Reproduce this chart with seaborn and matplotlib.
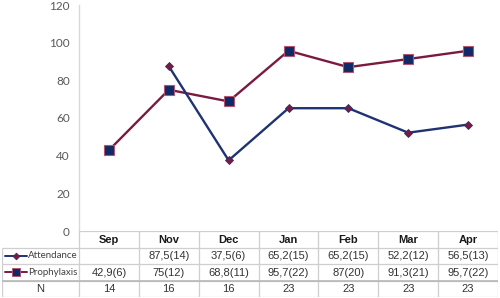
import matplotlib

matplotlib.use("Agg")
import matplotlib.pyplot as plt
import numpy as np
import pandas as pd
import seaborn as sns

sns.set_style("white")
plt.rcParams["font.family"] = ["Liberation Sans", "DejaVu Sans"]

months = ["Sep", "Nov", "Dec", "Jan", "Feb", "Mar", "Apr"]
attendance = [np.nan, 87.5, 37.5, 65.2, 65.2, 52.2, 56.5]
prophylaxis = [42.9, 75.0, 68.8, 95.7, 87.0, 91.3, 95.7]
attendance_txt = ["", "87,5(14)", "37,5(6)", "65,2(15)", "65,2(15)", "52,2(12)", "56,5(13)"]
prophylaxis_txt = ["42,9(6)", "75(12)", "68,8(11)", "95,7(22)", "87(20)", "91,3(21)", "95,7(22)"]
n_values = ["14", "16", "16", "23", "23", "23", "23"]
y_ticks = [0, 20, 40, 60, 80, 100, 120]

NAVY = "#1f3372"
MAROON = "#7b1a40"
GRID = "#cfcfcf"

df = pd.DataFrame({"pos": np.arange(len(months)), "month": months,
                   "Attendance": attendance, "Prophylaxis": prophylaxis})

W, H = 500, 298
fig = plt.figure(figsize=(W / 100, H / 100), dpi=100)

# chart area
ax = fig.add_axes([79 / W, 1 - 231 / H, 419 / W, 226 / H])
sns.lineplot(data=df, x="pos", y="Prophylaxis", ax=ax, color=MAROON, lw=1.7,
             marker="s", markersize=6.5, markerfacecolor="#0f2a66",
             markeredgecolor="#b0576f", markeredgewidth=0.8)
sns.lineplot(data=df, x="pos", y="Attendance", ax=ax, color=NAVY, lw=1.7,
             marker="D", markersize=4, markerfacecolor=MAROON,
             markeredgecolor=NAVY, markeredgewidth=0.6)
ax.set_xlim(-0.5, len(months) - 0.5)
ax.set_ylim(0, 120)
ax.set_yticks(y_ticks)
ax.set_xticks([])
ax.set_xlabel("")
ax.set_ylabel("")
ax.tick_params(axis="y", length=0, pad=6.5, labelsize=8.5, labelcolor="#595959")
for lab in ax.get_yticklabels():
    lab.set_family(["Lato", "DejaVu Sans"])
for s in ["top", "right", "bottom"]:
    ax.spines[s].set_visible(False)
ax.spines["left"].set_color("#d9d9d9")
ax.spines["left"].set_linewidth(1.0)

# data table
lab_w = 77 / (419 / len(months))
x0 = -0.5 - lab_w
x1 = len(months) - 0.5
tab = fig.add_axes([2 / W, 1 - 297 / H, 496 / W, 66 / H])
tab.set_xlim(x0, x1)
tab.set_ylim(4, 0)
tab.axis("off")

lw = 0.9
tab.hlines([0], -0.5, x1, color=GRID, lw=lw)
tab.hlines([1, 2, 3, 4], x0, x1, color=GRID, lw=lw)
tab.vlines(np.arange(-0.5, x1 + 0.01, 1.0), 0, 4, color=GRID, lw=lw)
tab.vlines([x0], 1, 4, color=GRID, lw=lw)
tab.hlines([3.0], x0, x1, color="#b8b8b8", lw=1.2)

for i, m in enumerate(months):
    tab.text(i, 0.52, m, ha="center", va="center", fontsize=8, fontweight="bold", color="#1a1a1a")
    tab.text(i, 1.52, attendance_txt[i], ha="center", va="center", fontsize=8, color="#333333")
    tab.text(i, 2.52, prophylaxis_txt[i], ha="center", va="center", fontsize=8, color="#333333")
    tab.text(i, 3.52, n_values[i], ha="center", va="center", fontsize=8, color="#333333")

# legend keys inside row labels
kx = [x0 + 0.05, x0 + 0.42]
tab.plot(kx, [1.5, 1.5], color=NAVY, lw=1.4)
tab.plot([np.mean(kx)], [1.5], marker="D", ms=3.5, mfc=MAROON, mec=NAVY, mew=0.5)
tab.plot(kx, [2.5, 2.5], color=MAROON, lw=1.4)
tab.plot([np.mean(kx)], [2.5], marker="s", ms=5.5, mfc="#0f2a66", mec="#b0576f", mew=0.7)
tab.text(x0 + 0.44, 1.5, "Attendance", ha="left", va="center", fontsize=7,
         family=["Lato", "DejaVu Sans"], color="#404040")
tab.text(x0 + 0.44, 2.5, "Prophylaxis", ha="left", va="center", fontsize=7,
         family=["Lato", "DejaVu Sans"], color="#404040")
tab.text(x0 + lab_w / 2, 3.52, "N", ha="center", va="center", fontsize=8, color="#333333")

fig.savefig("out.png", dpi=100)
